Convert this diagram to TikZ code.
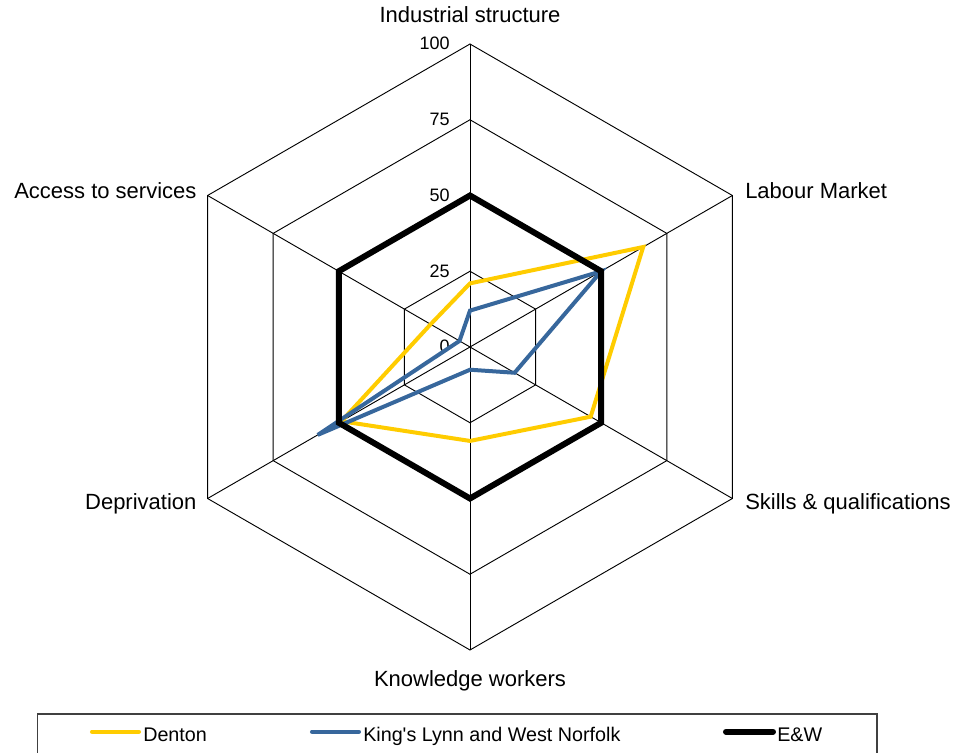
\documentclass[tikz,border=0pt]{standalone}
\usepackage{fontspec}
\setmainfont{Liberation Sans}[Ligatures=TeXOff]
\definecolor{denton}{RGB}{255,204,0}
\definecolor{kings}{RGB}{55,103,156}

\begin{document}
\begin{tikzpicture}[x=0.75pt, y=0.75pt,
    grid/.style={black, line width=0.7pt},
    series/.style={line width=3pt},
    keyline/.style={line width=3pt, line cap=round},
    axislbl/.style={font=\fontsize{16.5}{19}\selectfont, inner sep=0pt},
    numlbl/.style={font=\fontsize{13.5}{16}\selectfont, inner sep=0pt, anchor=base east},
    keylbl/.style={font=\fontsize{14.8}{17}\selectfont, inner sep=0pt, anchor=base west}]
    \useasboundingbox (-470,-406) rectangle (488,347);
    %radar grid
    \foreach \r in {25,50,75,100}
      \draw[grid] (90:3.03*\r) \foreach \a in {30,-30,-90,-150,150}{ -- (\a:3.03*\r) } -- cycle;
    \foreach \a in {90,30,-30,-90,-150,150}
      \draw[grid] (0,0) -- (\a:303);
    \foreach \r/\t in {0/0,25/25,50/50,75/75,100/100}
      \node[numlbl] (n\t) at (-20, 3.03*\r-6) {\t};
    %axis labels
    \node[axislbl, anchor=base] (ind) at (0,324.3) {Industrial structure};
    \node[axislbl, anchor=base west] (lab) at (275,148.7) {Labour Market};
    \node[axislbl, anchor=base west] (skl) at (275,-163) {Skills \& qualifications};
    \node[axislbl, anchor=base] (knw) at (0,-339) {Knowledge workers};
    \node[axislbl, anchor=base east] (dep) at (-273.3,-163) {Deprivation};
    \node[axislbl, anchor=base east] (acc) at (-273.3,148.7) {Access to services};
    %data
    \draw[series, denton] (90:3.03*21) \foreach \a/\v in {30/66,-30/46,-90/31,-150/49,150/15}{ -- (\a:3.03*\v) } -- cycle;
    \draw[series, kings] (90:3.03*12) \foreach \a/\v in {30/50,-30/17,-90/7.5,-150/58,150/4}{ -- (\a:3.03*\v) } -- cycle;
    \draw[black, line width=4.5pt] (90:151.5) \foreach \a in {30,-30,-90,-150,150}{ -- (\a:151.5) } -- cycle;
    %legend
    \draw[black!75, line width=0.8pt] (-432.5,-408) -- (-432.5,-367) -- (407,-367) -- (407,-408);
    \node[keylbl] (kden) at (-327,-394.7) {Denton};
    \node[keylbl] (kkl) at (-107,-394.7) {King's Lynn and West Norfolk};
    \node[keylbl] (kew) at (307,-394.7) {E\&W};
    \draw[keyline, denton] (kden.base west) ++(-4,10) -- ++(-47,0);
    \draw[keyline, kings] (kkl.base west) ++(-4,10) -- ++(-47,0);
    \draw[keyline, black, line width=4.5pt] (kew.base west) ++(-4,10) -- ++(-47,0);
  \end{tikzpicture}
\end{document}
